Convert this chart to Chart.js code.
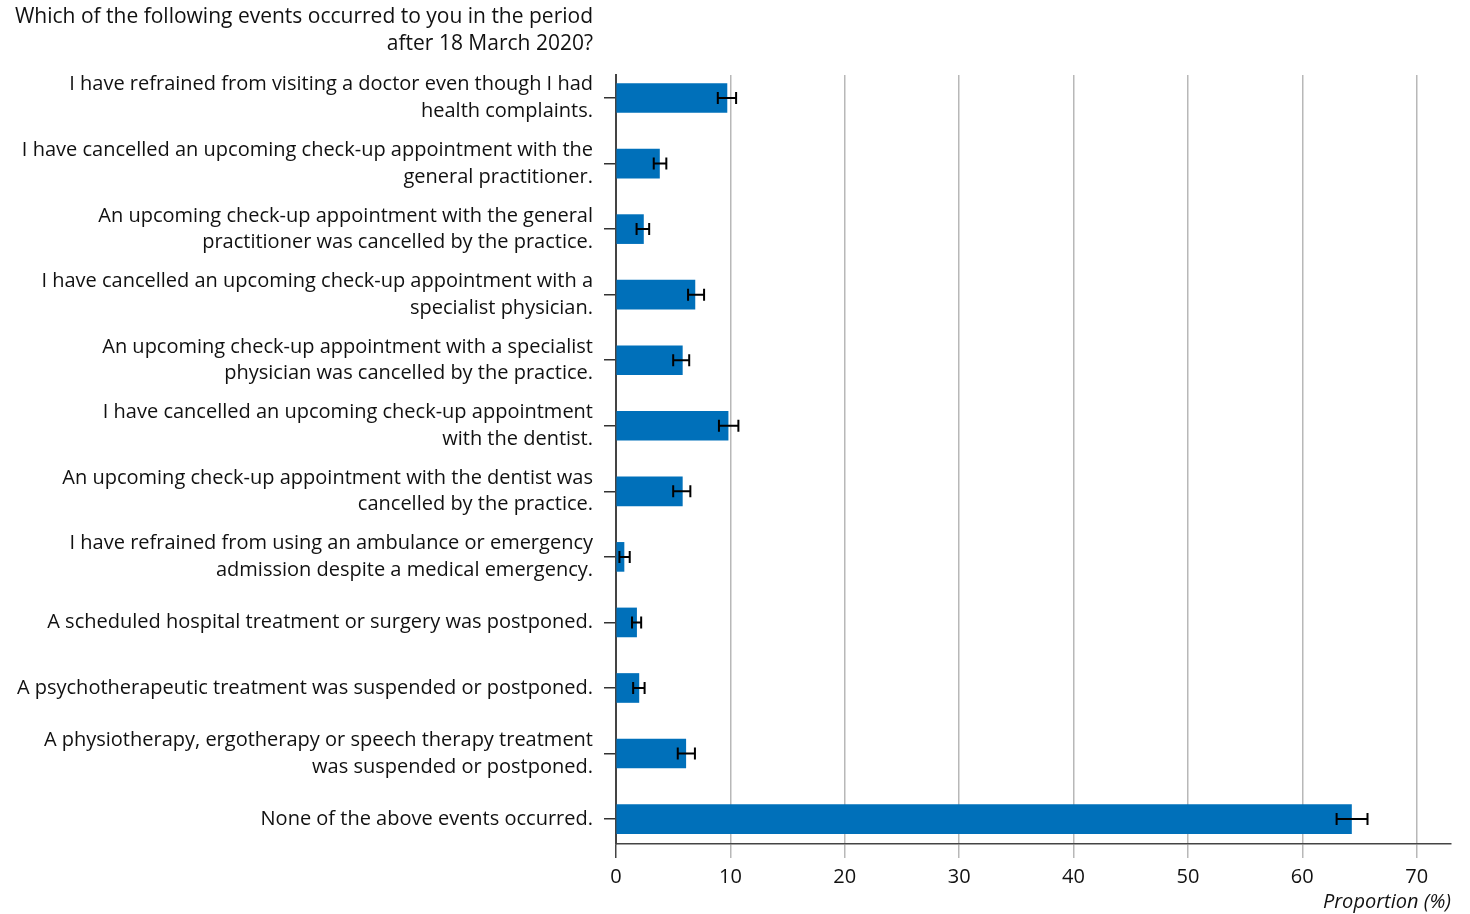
<!DOCTYPE html>
<html>
<head>
<meta charset="utf-8">
<script src="https://cdn.jsdelivr.net/npm/chart.js@4"></script>
<style>
  html, body { margin: 0; padding: 0; background: #fff; }
  #wrap { position: relative; width: 1470px; height: 914px; }
</style>
</head>
<body>
<div id="wrap"><canvas id="c"></canvas></div>
<script>
const titleLines = ["Which of the following events occurred to you in the period", "after 18 March 2020?"];
const categories = [
  ["I have refrained from visiting a doctor even though I had", "health complaints."],
  ["I have cancelled an upcoming check-up appointment with the", "general practitioner."],
  ["An upcoming check-up appointment with the general", "practitioner was cancelled by the practice."],
  ["I have cancelled an upcoming check-up appointment with a", "specialist physician."],
  ["An upcoming check-up appointment with a specialist", "physician was cancelled by the practice."],
  ["I have cancelled an upcoming check-up appointment", "with the dentist."],
  ["An upcoming check-up appointment with the dentist was", "cancelled by the practice."],
  ["I have refrained from using an ambulance or emergency", "admission despite a medical emergency."],
  "A scheduled hospital treatment or surgery was postponed.",
  "A psychotherapeutic treatment was suspended or postponed.",
  ["A physiotherapy, ergotherapy or speech therapy treatment", "was suspended or postponed."],
  "None of the above events occurred."
];
const proportion = [9.7, 3.8, 2.4, 6.9, 5.8, 9.8, 5.8, 0.7, 1.8, 2.0, 6.1, 64.3];
const ciLow     = [8.9, 3.3, 1.8, 6.3, 5.0, 9.0, 5.0, 0.3, 1.4, 1.5, 5.4, 63.0];
const ciHigh    = [10.5, 4.4, 2.9, 7.7, 6.4, 10.7, 6.5, 1.2, 2.2, 2.5, 6.9, 65.7];
const xTicks = [0, 10, 20, 30, 40, 50, 60, 70];
const xTitle = "Proportion (%)";

const FONT = "'Open Sans', 'DejaVu Sans', sans-serif";

const errorBars = {
  id: 'errorBars',
  afterDatasetsDraw(chart) {
    const ctx = chart.ctx, xs = chart.scales.x, ys = chart.scales.y;
    ctx.save();
    ctx.strokeStyle = '#000';
    ctx.lineWidth = 2;
    proportion.forEach((v, i) => {
      const y = ys.getPixelForValue(i);
      const x1 = xs.getPixelForValue(ciLow[i]);
      const x2 = xs.getPixelForValue(ciHigh[i]);
      ctx.beginPath();
      ctx.moveTo(x1, y); ctx.lineTo(x2, y);
      ctx.moveTo(x1, y - 6); ctx.lineTo(x1, y + 6);
      ctx.moveTo(x2, y - 6); ctx.lineTo(x2, y + 6);
      ctx.stroke();
    });
    ctx.restore();
  }
};

const topTitle = {
  id: 'topTitle',
  afterDraw(chart) {
    const ctx = chart.ctx, ys = chart.scales.y;
    ctx.save();
    ctx.fillStyle = '#111';
    ctx.font = "21px " + FONT;
    ctx.textAlign = 'right';
    ctx.textBaseline = 'middle';
    const xr = ys.right - 23;
    titleLines.forEach((t, i) => ctx.fillText(t, xr, 17 + i * 27));
    ctx.restore();
  }
};

new Chart(document.getElementById('c'), {
  type: 'bar',
  data: {
    datasets: [{
      data: proportion.map((v, i) => ({ x: v, y: i })),
      backgroundColor: '#0070BA',
      borderWidth: 0,
      barThickness: 29
    }]
  },
  options: {
    indexAxis: 'y',
    responsive: true,
    maintainAspectRatio: false,
    animation: false,
    layout: { padding: { top: 75, right: 19, left: 0, bottom: 0 } },
    plugins: { legend: { display: false }, tooltip: { enabled: false }, title: { display: false } },
    scales: {
      y: {
        type: 'linear',
        reverse: true,
        offset: false,
        min: -0.351,
        max: 11.38,
        afterBuildTicks(scale) { scale.ticks = categories.map((_, i) => ({ value: i })); },
        afterFit(scale) { scale.width = 616; },
        ticks: {
          callback: (v) => categories[v],
          color: '#111',
          font: { family: FONT, size: 20, lineHeight: 1.33 },
          padding: 11,
          autoSkip: false
        },
        grid: { offset: false, drawOnChartArea: false, drawTicks: true, tickLength: 12, color: '#333', lineWidth: 1.5 },
        border: { color: '#444', width: 2 }
      },
      x: {
        type: 'linear',
        min: 0,
        max: 73,
        afterBuildTicks(scale) { scale.ticks = xTicks.map(v => ({ value: v })); },
        afterFit(scale) { scale.height = 70; },
        ticks: {
          color: '#111',
          font: { family: FONT, size: 20 },
          padding: 7
        },
        grid: {
          color: (c) => (c.tick && c.tick.value === 0) ? '#444' : '#b8b8b8',
          lineWidth: 1.5,
          tickLength: 14
        },
        border: { color: '#444', width: 1.5 },
        title: {
          display: true,
          text: xTitle,
          align: 'end',
          color: '#111',
          font: { family: FONT, size: 20, style: 'italic' },
          padding: { top: 0, bottom: 0 }
        }
      }
    }
  },
  plugins: [errorBars, topTitle]
});
</script>
</body>
</html>
